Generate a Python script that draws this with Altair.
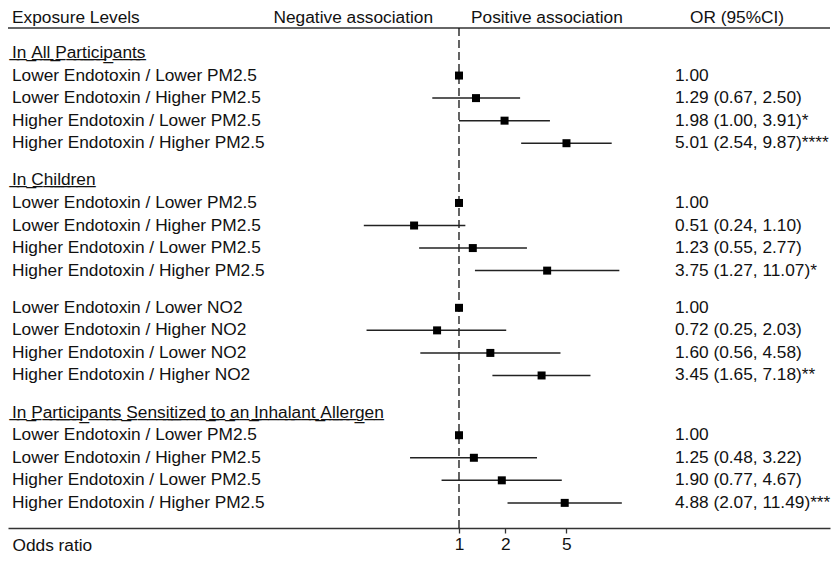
import altair as alt
import pandas as pd

# ---------------- data ----------------
block_titles = [
    "In All Participants",
    "In Children",
    "",
    "In Participants Sensitized to an Inhalant Allergen",
]
block_labels = [
    ["Lower Endotoxin / Lower PM2.5", "Lower Endotoxin / Higher PM2.5",
     "Higher Endotoxin / Lower PM2.5", "Higher Endotoxin / Higher PM2.5"],
    ["Lower Endotoxin / Lower PM2.5", "Lower Endotoxin / Higher PM2.5",
     "Higher Endotoxin / Lower PM2.5", "Higher Endotoxin / Higher PM2.5"],
    ["Lower Endotoxin / Lower NO2", "Lower Endotoxin / Higher NO2",
     "Higher Endotoxin / Lower NO2", "Higher Endotoxin / Higher NO2"],
    ["Lower Endotoxin / Lower PM2.5", "Lower Endotoxin / Higher PM2.5",
     "Higher Endotoxin / Lower PM2.5", "Higher Endotoxin / Higher PM2.5"],
]
or_vals = [
    [1.00, 1.29, 1.98, 5.01],
    [1.00, 0.51, 1.23, 3.75],
    [1.00, 0.72, 1.60, 3.45],
    [1.00, 1.25, 1.90, 4.88],
]
ci_low = [
    [None, 0.67, 1.00, 2.54],
    [None, 0.24, 0.55, 1.27],
    [None, 0.25, 0.56, 1.65],
    [None, 0.48, 0.77, 2.07],
]
ci_high = [
    [None, 2.50, 3.91, 9.87],
    [None, 1.10, 2.77, 11.07],
    [None, 2.03, 4.58, 7.18],
    [None, 3.22, 4.67, 11.49],
]
stars = [
    ["", "", "*", "****"],
    ["", "", "", "*"],
    ["", "", "", "**"],
    ["", "", "", "***"],
]
headers = ["Exposure Levels", "Negative association", "Positive association", "OR (95%CI)"]
x_ticks = [1, 2, 5]

# ---------------- table ----------------
GAP = 0.65
records = []
row = 0.0
for b, title in enumerate(block_titles):
    if b > 0:
        row += GAP
    if title:
        records.append(dict(row=row, label="".join(c + "\u0332" for c in title),
                            kind="heading", OR=None, lo=None, hi=None, ortext=""))
        row += 1
    for i, lab in enumerate(block_labels[b]):
        o, lo, hi = or_vals[b][i], ci_low[b][i], ci_high[b][i]
        if lo is None:
            txt = f"{o:.2f}"
        else:
            txt = f"{o:.2f} ({lo:.2f}, {hi:.2f}){stars[b][i]}"
        records.append(dict(row=row, label=lab, kind="item", OR=o, lo=lo, hi=hi, ortext=txt))
        row += 1
df = pd.DataFrame(records)
items = df[df.kind == "item"]

FONT = "Liberation Sans"
FS = 17.3
W, H = 822, 520

xscale = alt.Scale(type="log", domain=[0.001157, 260.5], nice=False, zero=False)
yscale = alt.Scale(domain=[-1.996, 21.064], reverse=True, nice=False, zero=False)

base = alt.Chart(df)

labels = base.mark_text(align="left", baseline="middle", font=FONT, fontSize=FS, color="#111").encode(
    x=alt.value(4),
    y=alt.Y("row:Q", scale=yscale, axis=None),
    text="label:N",
)

ortext = alt.Chart(items).mark_text(align="left", baseline="middle", font=FONT, fontSize=FS, color="#111").encode(
    x=alt.value(667),
    y=alt.Y("row:Q", scale=yscale, axis=None),
    text="ortext:N",
)

ci = alt.Chart(items).mark_rule(color="#222", strokeWidth=1.5).encode(
    x=alt.X("lo:Q", scale=xscale),
    x2="hi:Q",
    y=alt.Y("row:Q", scale=yscale, axis=None),
)

pts = alt.Chart(items).mark_square(size=64, color="black", opacity=1).encode(
    x=alt.X("OR:Q", scale=xscale,
            axis=alt.Axis(values=x_ticks, format="d", grid=False, orient="bottom",
                          domainColor="#333", domainWidth=1.5, tickColor="#333", tickWidth=1.3,
                          tickSize=5, labelFont=FONT, labelFontSize=FS, labelColor="#111",
                          labelPadding=2, labelFlush=False,
                          title="Odds ratio", titleFont=FONT, titleFontSize=FS,
                          titleFontWeight="normal", titleColor="#111", titleX=4, titleY=17.5,
                          titleAlign="left", titleBaseline="middle", titleAngle=0)),
    y=alt.Y("row:Q", scale=yscale, axis=None),
)

one = pd.DataFrame({"v": [1]})
ref = alt.Chart(one).mark_rule(color="#111", strokeWidth=1.3, strokeDash=[8, 4]).encode(
    x=alt.X("v:Q", scale=xscale),
    y=alt.value(20),
    y2=alt.value(H),
)
topline = alt.Chart(one).mark_rule(color="#333", strokeWidth=1.5).encode(
    x=alt.value(0), x2=alt.value(W), y=alt.value(20),
)

hdr_x = [4, 425, 463, 682]
hdr_align = ["left", "right", "left", "left"]
hdr_layers = []
for h, hx, ha in zip(headers, hdr_x, hdr_align):
    hdr_layers.append(
        alt.Chart(pd.DataFrame({"t": [h]})).mark_text(
            align=ha, baseline="middle", font=FONT, fontSize=FS, color="#111"
        ).encode(x=alt.value(hx), y=alt.value(10), text="t:N")
    )

chart = alt.layer(topline, ref, ci, pts, labels, ortext, *hdr_layers).properties(
    width=W, height=H,
    autosize=alt.AutoSizeParams(type="none"),
    padding={"left": 0, "top": 0, "right": 2, "bottom": 27},
).configure(font=FONT).configure_view(stroke=None)

chart.save("out.html", embed_options={"renderer": "svg", "actions": False})
